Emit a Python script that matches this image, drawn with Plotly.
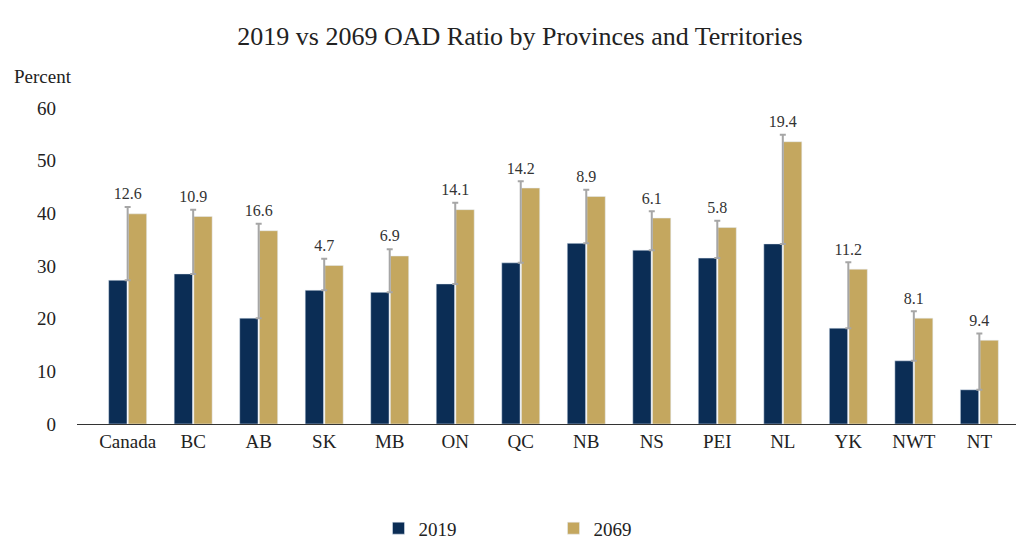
import plotly.graph_objects as go

regions = ["Canada", "BC", "AB", "SK", "MB", "ON", "QC", "NB", "NS", "PEI", "NL", "YK", "NWT", "NT"]
oad_2019 = [27.3, 28.5, 20.1, 25.4, 25.0, 26.6, 30.6, 34.3, 33.0, 31.5, 34.2, 18.2, 12.0, 6.5]
change = [12.6, 10.9, 16.6, 4.7, 6.9, 14.1, 14.2, 8.9, 6.1, 5.8, 19.4, 11.2, 8.1, 9.4]
oad_2069 = [round(a + d, 1) for a, d in zip(oad_2019, change)]

font = "Liberation Serif"

fig = go.Figure()
fig.add_trace(go.Bar(name="2019", x=regions, y=oad_2019, marker_color="#0b2d55", width=0.28))
fig.add_trace(go.Bar(name="2069", x=regions, y=oad_2069, marker_color="#c4a75f", width=0.28))

# grey bracket showing the increase, with the change labelled above
fig.add_trace(go.Scatter(
    x=regions, y=oad_2019, mode="markers", marker=dict(size=1, color="rgba(0,0,0,0)"),
    error_y=dict(type="data", symmetric=False, array=[d + 1.3 for d in change],
                 arrayminus=[0] * len(change), color="#a6a6a6", thickness=2, width=3),
    showlegend=False, hoverinfo="skip"))
fig.add_trace(go.Scatter(
    x=regions, y=[v + 2.0 for v in oad_2069], mode="text", text=[f"{d:.1f}" for d in change],
    textposition="top center", textfont=dict(family=font, size=16, color="#333"),
    showlegend=False, hoverinfo="skip"))

fig.update_layout(
    width=1024, height=550,
    title=dict(text="2019 vs 2069 OAD Ratio by Provinces and Territories", x=0.5, y=0.965,
               font=dict(family=font, size=26, color="#222")),
    font=dict(family=font, size=19, color="#222"),
    plot_bgcolor="white", paper_bgcolor="white",
    barmode="group", bargap=0.4, bargroupgap=0.15,
    margin=dict(l=69, r=2, t=100, b=134),
    legend=dict(orientation="h", x=0.5, xanchor="center", y=-0.27, yanchor="top",
                font=dict(family=font, size=19), itemwidth=30, entrywidth=130),
    annotations=[dict(text="Percent", xref="paper", yref="paper", x=-0.068, y=1.06,
                      xanchor="left", yanchor="bottom", showarrow=False,
                      font=dict(family=font, size=19))],
)
fig.update_xaxes(showline=True, linecolor="#333", linewidth=1, ticks="", showgrid=False,
                 tickfont=dict(family=font, size=19))
fig.update_yaxes(range=[0, 60], dtick=10, showgrid=False, zeroline=False, ticks="",
                 ticklabelstandoff=20, tickfont=dict(family=font, size=19))
fig.write_html("out.html")
